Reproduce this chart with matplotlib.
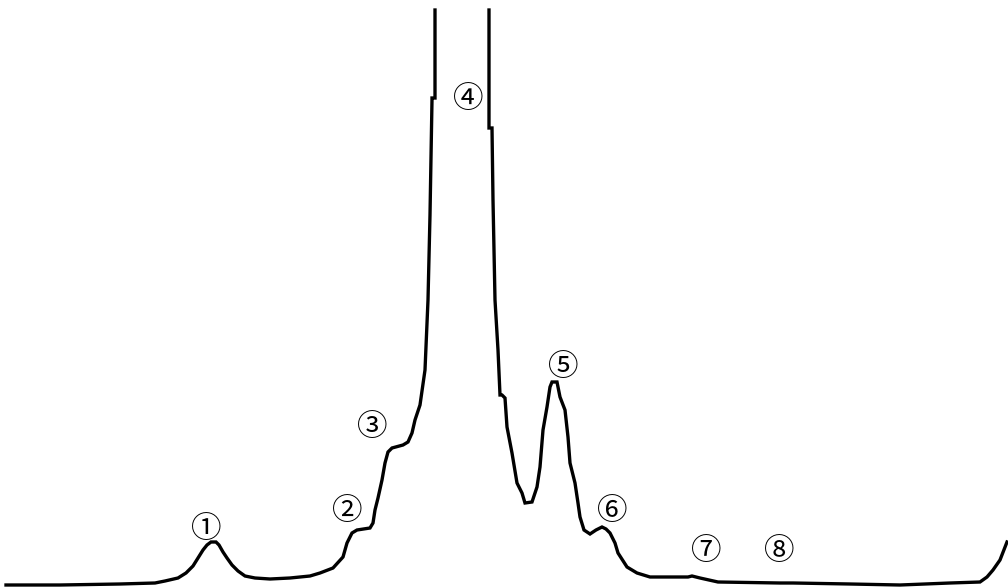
import numpy as np
import matplotlib.pyplot as plt

# trace (x = retention position, y = pixel height from top)
trace_x = [6, 60, 120, 155, 165, 178, 186, 193, 198, 203, 207, 211, 216, 219, 223, 227, 232, 238, 245,
           255, 270, 290, 310, 320, 333, 343, 347, 352, 357, 370, 373, 375, 378, 382, 385, 388,
           392, 403, 408, 412, 415, 420, 425, 428, 430, 432, 432, 435, 435,
           np.nan,
           489, 489, 492, 493, 495, 498, 500, 502, 505, 507, 512, 517, 522, 525, 532, 537, 540,
           543, 547, 550, 552, 557, 560, 565, 568, 570, 575, 578, 580, 584, 590, 596, 602, 606,
           610, 615, 618, 627, 637, 650, 688, 692, 700, 718, 780, 793, 850, 900, 950, 980,
           987, 993, 1000, 1007]
trace_y = [585, 585, 584, 583, 581, 578, 573, 566, 558, 550, 545, 542, 542, 545, 552, 558, 565, 571, 576,
           578, 579, 578, 576, 573, 568, 557, 543, 533, 530, 528, 523, 510, 498, 480, 463, 452,
           448, 445, 442, 433, 420, 405, 370, 300, 215, 100, 98, 98, 10,
           np.nan,
           10, 128, 128, 200, 300, 350, 395, 395, 398, 427, 453, 483, 493, 503, 502, 487, 467,
           430, 407, 387, 382, 382, 397, 410, 437, 463, 483, 503, 517, 530, 534, 530, 527, 529,
           533, 543, 553, 567, 573, 577, 577, 576, 578, 582, 583, 583, 584, 585, 583, 582,
           577, 570, 560, 542]

labels = ['①', '②', '③', '④', '⑤', '⑥', '⑦', '⑧']
label_x = [206, 347, 372, 468, 563, 612, 706, 779]
label_y = [527, 509, 425, 96, 364, 509, 548, 548]

fig = plt.figure(figsize=(10.08, 5.88), dpi=100)
ax = fig.add_axes([0, 0, 1, 1])
ax.plot(trace_x, trace_y, color='black', linewidth=2.4, solid_joinstyle='miter')

for lab, x, y in zip(labels, label_x, label_y):
    ax.text(x, y + 3, lab, ha='center', va='center', fontsize=22,
            family=['Noto Sans CJK JP', 'DejaVu Sans'])

ax.set_xlim(0, 1008)
ax.set_ylim(588, 0)
ax.axis('off')

plt.savefig('out.png', dpi=100)
